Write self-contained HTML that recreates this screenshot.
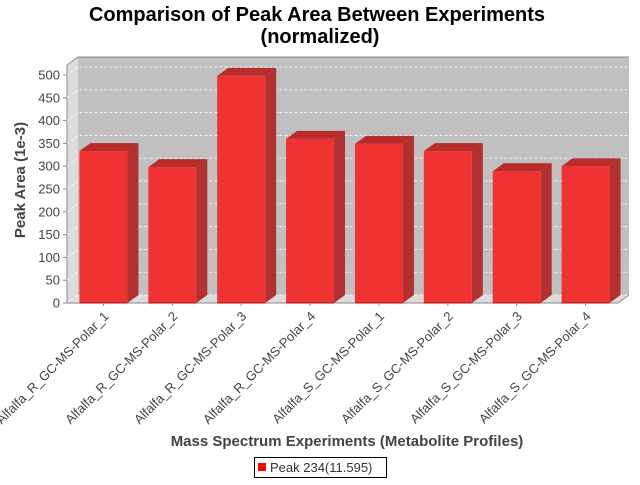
<!DOCTYPE html>
<html><head><meta charset="utf-8"><style>
body{margin:0;background:#fff}
svg text{font-family:"Liberation Sans","DejaVu Sans",sans-serif}
</style></head><body>
<svg id="c" width="640" height="480" xmlns="http://www.w3.org/2000/svg">
<text x="317" y="21" text-anchor="middle" font-size="20" font-weight="bold" fill="#000">Comparison of Peak Area Between Experiments</text>
<text x="320" y="43" text-anchor="middle" font-size="20" font-weight="bold" fill="#000">(normalized)</text>
<g id="plot"></g>
<text transform="translate(25,180) rotate(-90)" text-anchor="middle" font-size="15" font-weight="bold" fill="#444">Peak Area (1e-3)</text>
<text x="347" y="446" text-anchor="middle" font-size="15" font-weight="bold" fill="#444">Mass Spectrum Experiments (Metabolite Profiles)</text>
<g>
<rect x="254.5" y="457.5" width="132" height="20" fill="#fff" stroke="#000"/>
<rect x="258" y="463" width="8" height="8" fill="#f00"/>
<text x="270" y="472" font-size="13" fill="#333">Peak 234(11.595)</text>
</g>
</svg>
<script>
const categories=["Alfalfa_R_GC-MS-Polar_1","Alfalfa_R_GC-MS-Polar_2","Alfalfa_R_GC-MS-Polar_3","Alfalfa_R_GC-MS-Polar_4","Alfalfa_S_GC-MS-Polar_1","Alfalfa_S_GC-MS-Polar_2","Alfalfa_S_GC-MS-Polar_3","Alfalfa_S_GC-MS-Polar_4"];
const values=[333,298,498,360,349,333,289,300];
const yTicks=[0,50,100,150,200,250,300,350,400,450,500];
const NS="http://www.w3.org/2000/svg";
const g=document.getElementById('plot');
const x0=67,x1=618,y0=303,dx=11,dy=8,yMax=500,yTop=75;
const y=v=>y0-(v/yMax)*(y0-yTop);
function el(t,a){const e=document.createElementNS(NS,t);for(const k in a)e.setAttribute(k,a[k]);g.appendChild(e);return e;}
let w=el('polygon',{points:`${x0},${y0} ${x0+dx},${y0-dy} ${x0+dx},${57} ${x0},${65}`,fill:'#dcdcdc'});

w=el('polygon',{points:`${x0},${y0} ${x0+dx},${y0-dy} ${629},${y0-dy} ${x1},${y0}`,fill:'#dcdcdc'});

w=el('rect',{x:x0+dx,y:57,width:629-x0-dx,height:y0-dy-57,fill:'#c0c0c0'});

el('polyline',{points:`${x0},${65} ${x0+dx},57 629,57`,fill:'none',stroke:'#888','stroke-width':1});
el('line',{x1:x0,y1:65,x2:x0,y2:y0,stroke:'#888'});
el('polyline',{points:`${x1},${y0} 629,${y0-dy}`,fill:'none',stroke:'#888'});
yTicks.forEach(t=>{const yy=y(t);
 const gl=el('polyline',{points:`${x0},${yy} ${x0+dx},${yy-dy} 629,${yy-dy}`,fill:'none',stroke:'#fff','stroke-dasharray':'3,2','stroke-width':0.7});
 
 el('line',{x1:x0-4,y1:yy,x2:x0,y2:yy,stroke:'#888'});
 const tx=el('text',{x:x0-7,y:yy+4.5,'text-anchor':'end','font-size':13,fill:'#444'});tx.textContent=t;
 
});
el('line',{x1:x0,y1:y0,x2:x1,y2:y0,stroke:'#888'});
const step=(x1-x0)/categories.length, bw=48;
categories.forEach((c,i)=>{
 const cx=x0+step*(i+0.5)+2, bx=cx-bw/2, top=y(values[i]);
 const bg=document.createElementNS(NS,'g');g.appendChild(bg);
 
 const mk=(t,a)=>{const e=document.createElementNS(NS,t);for(const k in a)e.setAttribute(k,a[k]);bg.appendChild(e);return e;};
 mk('polygon',{points:`${bx+bw},${y0} ${bx+bw+dx},${y0-dy} ${bx+bw+dx},${top-dy} ${bx+bw},${top}`,fill:'#b33030'});
 mk('polygon',{points:`${bx},${top} ${bx+dx},${top-dy} ${bx+bw+dx},${top-dy} ${bx+bw},${top}`,fill:'#b82c2c'});
 mk('rect',{x:bx,y:top,width:bw,height:y0-top,fill:'#f03232'});
 mk('line',{x1:bx,y1:y0,x2:bx+bw,y2:y0,stroke:'#a01010'});
 el('line',{x1:cx,y1:y0,x2:cx,y2:y0+3,stroke:'#888'});
 const lx=cx+6,ly=y0+14;
 const t=el('text',{x:lx,y:ly,'text-anchor':'end','font-size':13,fill:'#444',transform:`rotate(-45 ${lx} ${ly})`});
 t.textContent=c;
});
</script>
</body></html>
